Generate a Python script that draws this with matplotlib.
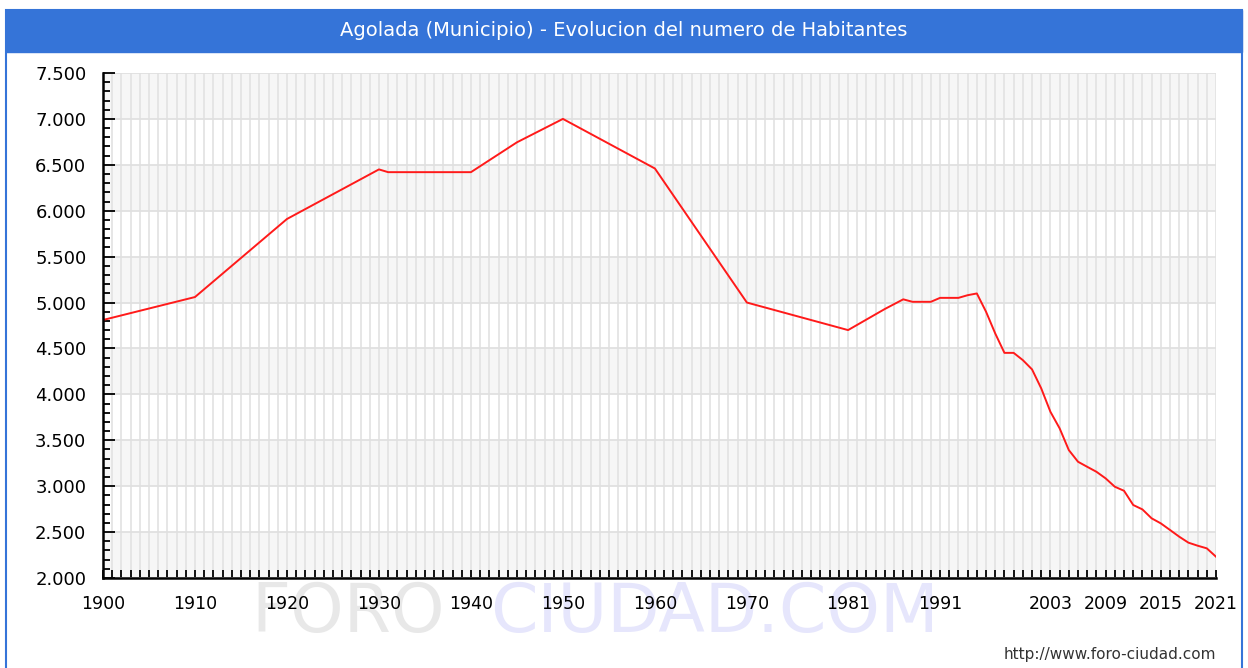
import matplotlib
matplotlib.use('Agg')
from matplotlib import pyplot as plt
from matplotlib.patches import Rectangle
from matplotlib.ticker import MultipleLocator, FixedLocator, FuncFormatter

# population
years = [1900, 1910, 1920, 1930, 1931, 1940, 1945, 1950, 1960, 1970, 1981,
         1985, 1987, 1988, 1990, 1991, 1993, 1994, 1995, 1996, 1997, 1998,
         1999, 2000, 2001, 2002, 2003, 2004, 2005, 2006, 2007, 2008, 2009,
         2010, 2011, 2012, 2013, 2014, 2015, 2016, 2017, 2018, 2019, 2020, 2021]
habitantes = [4810, 5060, 5910, 6450, 6420, 6420, 6745, 7000, 6460, 5000, 4700,
              4930, 5035, 5008, 5008, 5051, 5051, 5080, 5099, 4900, 4663, 4452,
              4452, 4373, 4272, 4065, 3810, 3630, 3393, 3266, 3211, 3157, 3085,
              2994, 2950, 2795, 2747, 2650, 2595, 2523, 2450, 2385, 2352, 2323, 2232]

label_years = [1900, 1910, 1920, 1930, 1940, 1950, 1960, 1970, 1981, 1991,
               2003, 2009, 2015, 2021]
y_min, y_max = 2000, 7500

titulo = 'Agolada (Municipio) - Evolucion del numero de Habitantes'
blue = '#3574d8'

W, H = 1248, 668
fig = plt.figure(figsize=(W / 100, H / 100), dpi=100)
fig.patch.set_facecolor('white')

# blue frame and title band
fig.patches.append(Rectangle((6 / W, -0.01), 1236 / W, 1 - 10 / H + 0.01,
                             transform=fig.transFigure, facecolor='none',
                             edgecolor=blue, lw=1.5, zorder=0))
fig.patches.append(Rectangle((6 / W, 1 - 52 / H), 1236 / W, 42 / H,
                             transform=fig.transFigure, facecolor=blue,
                             edgecolor=blue, lw=1, zorder=0))
fig.text(0.5, 1 - 31 / H, titulo, color='white', fontsize=14,
         ha='center', va='center', family='DejaVu Sans')

# watermark, behind everything else
fig.text(251 / W, 1 - 632 / H, 'FORO', color='#e8e8e8', fontsize=49,
         ha='left', va='baseline', zorder=-1)
fig.text(490 / W, 1 - 632 / H, 'CIUDAD.COM', color='#e6e6fc', fontsize=49,
         ha='left', va='baseline', zorder=-1)

ax = fig.add_axes([103 / W, 1 - 578 / H, (1216 - 103) / W, (578 - 73) / H])
ax.set_xlim(1900, 2021)
ax.set_ylim(y_min, y_max)

# alternating bands
for k, lo in enumerate(range(y_max - 500, y_min - 1, -500)):
    ax.axhspan(lo, lo + 500, color='#f6f6f6' if k % 2 == 0 else 'white',
               lw=0, zorder=0)

ax.xaxis.set_major_locator(FixedLocator(label_years))
ax.xaxis.set_minor_locator(MultipleLocator(1))
ax.yaxis.set_major_locator(MultipleLocator(500))
ax.yaxis.set_minor_locator(MultipleLocator(100))
ax.yaxis.set_major_formatter(FuncFormatter(lambda v, p: '{:,.0f}'.format(v).replace(',', '.')))

ax.grid(True, which='major', axis='y', color='#e0e0e0', lw=1.3, zorder=1)
ax.grid(True, which='both', axis='x', color='#e2e2e2', lw=1.2, zorder=1)
ax.set_axisbelow(True)

ax.plot(years, habitantes, color='#ff1a1a', lw=1.4, zorder=3)

for s in ['top', 'right']:
    ax.spines[s].set_visible(False)
for s in ['left', 'bottom']:
    ax.spines[s].set_linewidth(1.8)
    ax.spines[s].set_zorder(4)

ax.tick_params(axis='x', which='both', direction='in', length=5.5, width=1.3,
               pad=12, labelsize=12.5, colors='black')
ax.tick_params(axis='y', which='major', direction='in', length=8.5, width=1.3,
               pad=12, labelsize=13)
ax.tick_params(axis='y', which='minor', direction='in', length=5, width=1.3)

fig.text(1216 / W, 1 - 655 / H, 'http://www.foro-ciudad.com', color='#333333',
         fontsize=11, ha='right', va='center')

plt.savefig('out.png', dpi=100)
